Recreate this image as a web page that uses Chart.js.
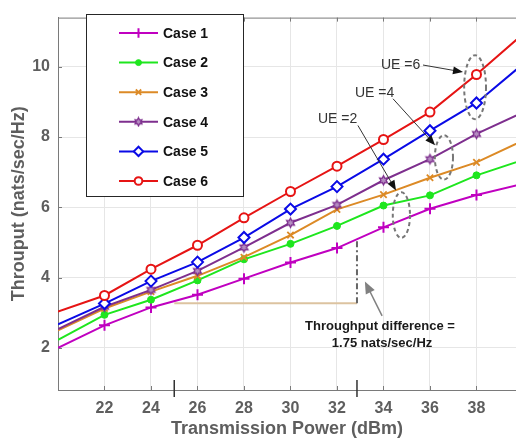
<!DOCTYPE html>
<html>
<head>
<meta charset="utf-8">
<script src="https://cdn.jsdelivr.net/npm/chart.js@4.4.1/dist/chart.umd.min.js"></script>
<style>
  html, body { margin: 0; padding: 0; background: #fff; }
  .wrap { width: 516px; height: 438px; }
</style>
</head>
<body>
<div class="wrap"><canvas id="chart" width="516" height="438"></canvas></div>
<script>
// data
const powerDbm = [20, 22, 24, 26, 28, 30, 32, 34, 36, 38, 40];
const case1 = [2.00, 2.64, 3.15, 3.51, 3.97, 4.43, 4.84, 5.43, 5.96, 6.35, 6.67];
const case2 = [2.23, 2.94, 3.37, 3.92, 4.52, 4.96, 5.47, 6.05, 6.34, 6.91, 7.35];
const case3 = [2.50, 3.12, 3.60, 4.05, 4.58, 5.21, 5.94, 6.36, 6.84, 7.28, 7.90];
const case4 = [2.53, 3.17, 3.65, 4.19, 4.86, 5.56, 6.07, 6.77, 7.37, 8.09, 8.70];
const case5 = [2.67, 3.26, 3.90, 4.44, 5.14, 5.95, 6.59, 7.37, 8.18, 8.97, 10.08];
const case6 = [3.03, 3.49, 4.24, 4.92, 5.70, 6.45, 7.17, 7.93, 8.71, 9.78, 10.93];
const caseNames = ['Case 1', 'Case 2', 'Case 3', 'Case 4', 'Case 5', 'Case 6'];
const xTicks = [22, 24, 26, 28, 30, 32, 34, 36, 38];
const yTicks = [2, 4, 6, 8, 10];

const FONT = '"Liberation Sans", Arial, sans-serif';
const GREY = '#5e5e5e';

// hexagram marker (matlab 'h')
function hexagram(color, r) {
  const size = Math.ceil(r * 2 + 3);
  const c = document.createElement('canvas');
  c.width = size; c.height = size;
  const g = c.getContext('2d');
  const m = size / 2;
  g.beginPath();
  for (let i = 0; i < 12; i++) {
    const rr = i % 2 === 0 ? r : r * 0.55;
    const a = -Math.PI / 2 + i * Math.PI / 6;
    g.lineTo(m + rr * Math.cos(a), m + rr * Math.sin(a));
  }
  g.closePath();
  g.fillStyle = '#b48cc0';
  g.fill();
  g.strokeStyle = color;
  g.lineWidth = 1.3;
  g.stroke();
  return c;
}

const styles = [
  { color: '#c000c0', point: 'cross', radius: 5.5, fill: '#c000c0', bw: 2 },
  { color: '#1ee61e', point: 'circle', radius: 3.5, fill: '#1ee61e', bw: 1 },
  { color: '#dc8a26', point: 'crossRot', radius: 4.5, fill: '#dc8a26', bw: 1.8 },
  { color: '#7e2f8e', point: hexagram('#7e2f8e', 4.6), radius: 4.5, fill: '#7e2f8e', bw: 1.5 },
  { color: '#0a0ae6', point: 'rectRot', radius: 5.5, fill: '#ffffff', bw: 2 },
  { color: '#e61414', point: 'circle', radius: 4.5, fill: '#ffffff', bw: 2 },
];
const legendPoints = [styles[0].point, styles[1].point, styles[2].point, hexagram('#7e2f8e', 4), styles[4].point, styles[5].point];

const series = [case1, case2, case3, case4, case5, case6];

const datasets = series.map((vals, k) => ({
  label: caseNames[k],
  data: powerDbm.map((x, i) => ({ x, y: vals[i] })),
  borderColor: styles[k].color,
  backgroundColor: styles[k].fill,
  borderWidth: 2,
  pointStyle: styles[k].point,
  pointRadius: powerDbm.map((x, i) => (i === 0 || i === powerDbm.length - 1 ? 0 : styles[k].radius)),
  pointBorderColor: styles[k].color,
  pointBackgroundColor: styles[k].fill,
  pointBorderWidth: styles[k].bw,
  tension: 0,
  order: 5 - k,
}));

// annotations, in data units
const notes = {
  ueLabels: [
    { text: 'UE =6', x: 33.89, y: 10.05, from: [35.70, 10.05], to: [37.42, 9.85], ell: [37.94, 9.42, 0.47, 0.91] },
    { text: 'UE =4', x: 32.77, y: 9.26, from: [34.41, 9.09], to: [36.22, 7.77], ell: [36.60, 7.42, 0.39, 0.63] },
    { text: 'UE =2', x: 31.18, y: 8.50, from: [32.90, 8.33], to: [34.54, 6.48], ell: [34.77, 5.78, 0.37, 0.65] },
  ],
  level: 3.27,
  xStart: 25.0,
  xEnd: 32.86,
  dashTop: 5.05,
  diffArrow: { from: [33.94, 2.91], to: [33.20, 3.89] },
  diffText: [
    { text: 'Throughput difference =', x: 33.85, y: 2.60 },
    { text: '1.75 nats/sec/Hz', x: 33.94, y: 2.12 },
  ],
};

function arrow(ctx, x1, y1, x2, y2, lineColor, headColor, headLen, headW, lw) {
  const a = Math.atan2(y2 - y1, x2 - x1);
  ctx.save();
  ctx.strokeStyle = lineColor;
  ctx.lineWidth = lw;
  ctx.beginPath();
  ctx.moveTo(x1, y1);
  ctx.lineTo(x2 - Math.cos(a) * headLen * 0.8, y2 - Math.sin(a) * headLen * 0.8);
  ctx.stroke();
  ctx.fillStyle = headColor;
  ctx.beginPath();
  ctx.moveTo(x2, y2);
  ctx.lineTo(x2 - headLen * Math.cos(a) + headW * Math.sin(a), y2 - headLen * Math.sin(a) - headW * Math.cos(a));
  ctx.lineTo(x2 - headLen * Math.cos(a) - headW * Math.sin(a), y2 - headLen * Math.sin(a) + headW * Math.cos(a));
  ctx.closePath();
  ctx.fill();
  ctx.restore();
}

const frame = {
  id: 'frame',
  beforeDatasetsDraw(chart) {
    const { ctx, chartArea: a, scales: { x, y } } = chart;
    ctx.save();
    ctx.strokeStyle = '#7a7a7a';
    ctx.lineWidth = 1;
    ctx.beginPath();
    ctx.moveTo(a.left, a.top + 0.5);
    ctx.lineTo(a.right, a.top + 0.5);
    xTicks.forEach((v) => {
      const px = Math.round(x.getPixelForValue(v)) + 0.5;
      ctx.moveTo(px, a.bottom); ctx.lineTo(px, a.bottom - 4);
      ctx.moveTo(px, a.top); ctx.lineTo(px, a.top + 4);
    });
    yTicks.forEach((v) => {
      const py = Math.round(y.getPixelForValue(v)) + 0.5;
      ctx.moveTo(a.left, py); ctx.lineTo(a.left + 4, py);
    });
    ctx.stroke();
    ctx.restore();
  },
};

const annotate = {
  id: 'annotate',
  afterDatasetsDraw(chart) {
    const { ctx, chartArea: a, scales: { x, y } } = chart;
    const px = (v) => x.getPixelForValue(v);
    const py = (v) => y.getPixelForValue(v);
    ctx.save();

    // throughput level line
    ctx.strokeStyle = '#dcc3a0';
    ctx.lineWidth = 2;
    ctx.beginPath();
    ctx.moveTo(px(notes.xStart), py(notes.level));
    ctx.lineTo(px(notes.xEnd), py(notes.level));
    ctx.stroke();

    ctx.strokeStyle = '#666';
    ctx.setLineDash([6, 3, 2, 3]);
    ctx.beginPath();
    ctx.moveTo(px(notes.xEnd), py(notes.level));
    ctx.lineTo(px(notes.xEnd), py(notes.dashTop));
    ctx.stroke();
    ctx.setLineDash([]);

    // marks across the x axis
    ctx.strokeStyle = '#333';
    ctx.lineWidth = 1.5;
    ctx.beginPath();
    [notes.xStart, notes.xEnd].forEach((v) => {
      ctx.moveTo(px(v), a.bottom - 10);
      ctx.lineTo(px(v), a.bottom + 7);
    });
    ctx.stroke();

    // UE groups
    ctx.font = '14px ' + FONT;
    ctx.textBaseline = 'middle';
    ctx.textAlign = 'left';
    notes.ueLabels.forEach((n) => {
      ctx.fillStyle = '#333';
      ctx.fillText(n.text, px(n.x), py(n.y));
      ctx.strokeStyle = '#777';
      ctx.lineWidth = 2;
      ctx.setLineDash([4, 3]);
      ctx.beginPath();
      const cx = px(n.ell[0]);
      const cy = py(n.ell[1]);
      const rx = px(n.ell[0] + n.ell[2]) - cx;
      const ry = cy - py(n.ell[1] + n.ell[3]);
      ctx.ellipse(cx, cy, rx, ry, 0, 0, Math.PI * 2);
      ctx.stroke();
      ctx.setLineDash([]);
      arrow(ctx, px(n.from[0]), py(n.from[1]), px(n.to[0]), py(n.to[1]), '#333', '#111', 10, 4, 1);
    });

    // difference note
    const d = notes.diffArrow;
    arrow(ctx, px(d.from[0]), py(d.from[1]), px(d.to[0]), py(d.to[1]), '#808080', '#808080', 12, 5, 1.5);
    ctx.font = 'bold 13px ' + FONT;
    ctx.fillStyle = '#1a1a1a';
    ctx.textAlign = 'center';
    notes.diffText.forEach((t) => ctx.fillText(t.text, px(t.x), py(t.y)));
    ctx.restore();
  },
};

const legendBox = {
  id: 'legendBox',
  afterDraw(chart) {
    const { ctx } = chart;
    const box = { left: 86, top: 14, width: 157, height: 182 };
    ctx.save();
    ctx.fillStyle = '#fff';
    ctx.fillRect(box.left, box.top, box.width, box.height);
    ctx.strokeStyle = '#262626';
    ctx.lineWidth = 1;
    ctx.strokeRect(box.left + 0.5, box.top + 0.5, box.width, box.height);
    ctx.font = 'bold 14px ' + FONT;
    ctx.textBaseline = 'middle';
    ctx.textAlign = 'left';
    chart.data.datasets.forEach((ds, i) => {
      const ry = box.top + 19 + i * 29.6;
      ctx.strokeStyle = ds.borderColor;
      ctx.lineWidth = 2;
      ctx.beginPath();
      ctx.moveTo(119, ry);
      ctx.lineTo(158, ry);
      ctx.stroke();
      ctx.fillStyle = ds.pointBackgroundColor;
      ctx.lineWidth = ds.pointBorderWidth;
      if (Chart.helpers && Chart.helpers.drawPoint) {
        Chart.helpers.drawPoint(ctx, { pointStyle: legendPoints[i], radius: styles[i].radius * 0.85, rotation: 0, borderWidth: ds.pointBorderWidth }, 138.5, ry);
      }
      ctx.fillStyle = '#111';
      ctx.fillText(ds.label, 163, ry + 1);
    });
    ctx.restore();
  },
};

new Chart(document.getElementById('chart'), {
  type: 'line',
  data: { datasets },
  options: {
    responsive: false,
    animation: false,
    devicePixelRatio: 1,
    layout: { padding: { top: 13, right: 0, left: 0, bottom: 0 } },
    plugins: { legend: { display: false }, tooltip: { enabled: false } },
    scales: {
      x: {
        type: 'linear',
        min: 20,
        max: 39.7,
        afterBuildTicks: (s) => { s.ticks = xTicks.map((v) => ({ value: v })); },
        afterFit: (s) => { s.height = 48; },
        grid: { color: '#e6e6e6', drawTicks: false },
        border: { color: '#7a7a7a', width: 1 },
        ticks: { padding: 9, color: GREY, font: { family: FONT, size: 16, weight: 'bold' }, maxRotation: 0 },
        title: {
          display: true,
          text: 'Transmission Power (dBm)',
          color: GREY,
          font: { family: FONT, size: 18, weight: 'bold' },
          padding: { top: 0, bottom: -2 },
        },
      },
      y: {
        min: 0.8,
        max: 11.4,
        afterBuildTicks: (s) => { s.ticks = yTicks.map((v) => ({ value: v })); },
        afterFit: (s) => { s.width = 58; },
        grid: { color: '#e6e6e6', drawTicks: false },
        border: { color: '#7a7a7a', width: 1 },
        ticks: { padding: 8, color: GREY, font: { family: FONT, size: 16, weight: 'bold' } },
        title: {
          display: true,
          text: 'Throuput (nats/sec/Hz)',
          color: GREY,
          font: { family: FONT, size: 18, weight: 'bold' },
          padding: { top: 8.5, bottom: 0 },
        },
      },
    },
  },
  plugins: [frame, annotate, legendBox],
});
</script>
</body>
</html>
